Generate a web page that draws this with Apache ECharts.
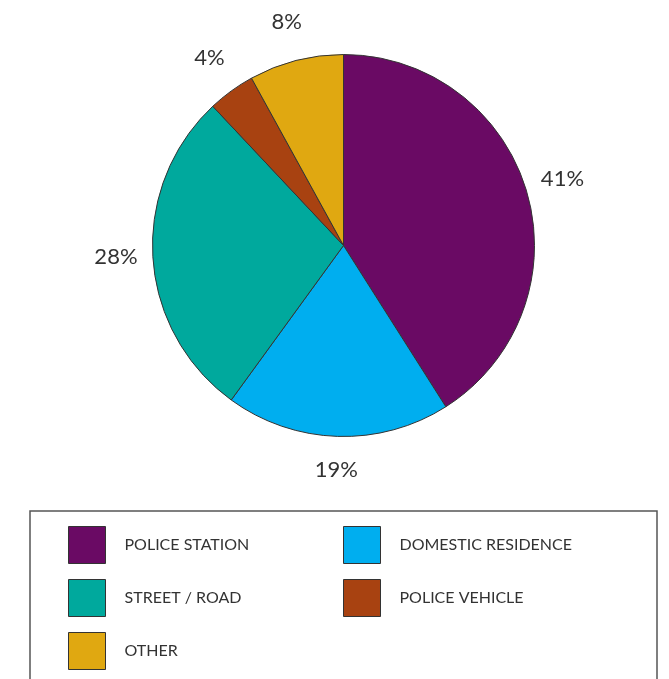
<!DOCTYPE html>
<html>
<head>
<meta charset="utf-8">
<script src="https://cdn.jsdelivr.net/npm/echarts@6/dist/echarts.min.js"></script>
<style>
  html, body { margin: 0; padding: 0; background: #fff; }
  #chart { width: 669px; height: 679px; }
</style>
</head>
<body>
<div id="chart"></div>
<script>
// categories and shares (percent), clockwise from 12 o'clock
const categories = ['POLICE STATION', 'DOMESTIC RESIDENCE', 'STREET / ROAD', 'POLICE VEHICLE', 'OTHER'];
const shares = [41, 19, 28, 4, 8];
const colors = ['#6a0a64', '#00aeef', '#00a99d', '#a84211', '#e0a811'];

const chart = echarts.init(document.getElementById('chart'));

let pieData = [];
let labelData = [];
for (let i = 0; i < categories.length; i++) {
    pieData.push({ name: categories[i], value: shares[i], itemStyle: { color: colors[i] } });
    // invisible ring, only carries the percent labels out past the rim
    labelData.push({ name: categories[i] + ' ', value: shares[i] });
}

// key laid out two per row, each entry its own legend so columns line up
let legends = [];
for (let i = 0; i < categories.length; i++) {
    legends.push({
        data: [categories[i]],
        left: i % 2 === 0 ? 68 : 343,
        top: 526 + Math.floor(i / 2) * 53,
        padding: 0,
        itemWidth: 37,
        itemHeight: 37,
        icon: 'rect',
        selectedMode: false,
        itemStyle: { borderColor: '#333', borderWidth: 1 },
        textStyle: {
            fontFamily: 'Lato',
            fontSize: 16,
            color: '#333',
            padding: [0, 0, 0, 14]
        }
    });
}

chart.setOption({
    animation: false,
    textStyle: { fontFamily: 'Lato' },
    graphic: [
        {
            type: 'rect',
            shape: { x: 30, y: 511, width: 627, height: 220 },
            style: { fill: 'none', stroke: '#555', lineWidth: 1.5 }
        }
    ],
    legend: legends,
    series: [
        {
            type: 'pie',
            center: [343.5, 245.5],
            radius: 191,
            startAngle: 90,
            clockwise: true,
            label: { show: false },
            labelLine: { show: false },
            itemStyle: { borderColor: '#333', borderWidth: 1 },
            emphasis: { disabled: true },
            data: pieData
        },
        {
            type: 'pie',
            center: [343.5, 245.5],
            radius: [216, 234],
            startAngle: 90,
            clockwise: true,
            silent: true,
            itemStyle: { color: 'rgba(0,0,0,0)' },
            label: {
                show: true,
                position: 'inside',
                formatter: '{c}%',
                fontFamily: 'Lato',
                fontSize: 22,
                color: '#333',
                offset: [0, -3]
            },
            labelLine: { show: false },
            emphasis: { disabled: true },
            data: labelData
        }
    ]
});
</script>
</body>
</html>
